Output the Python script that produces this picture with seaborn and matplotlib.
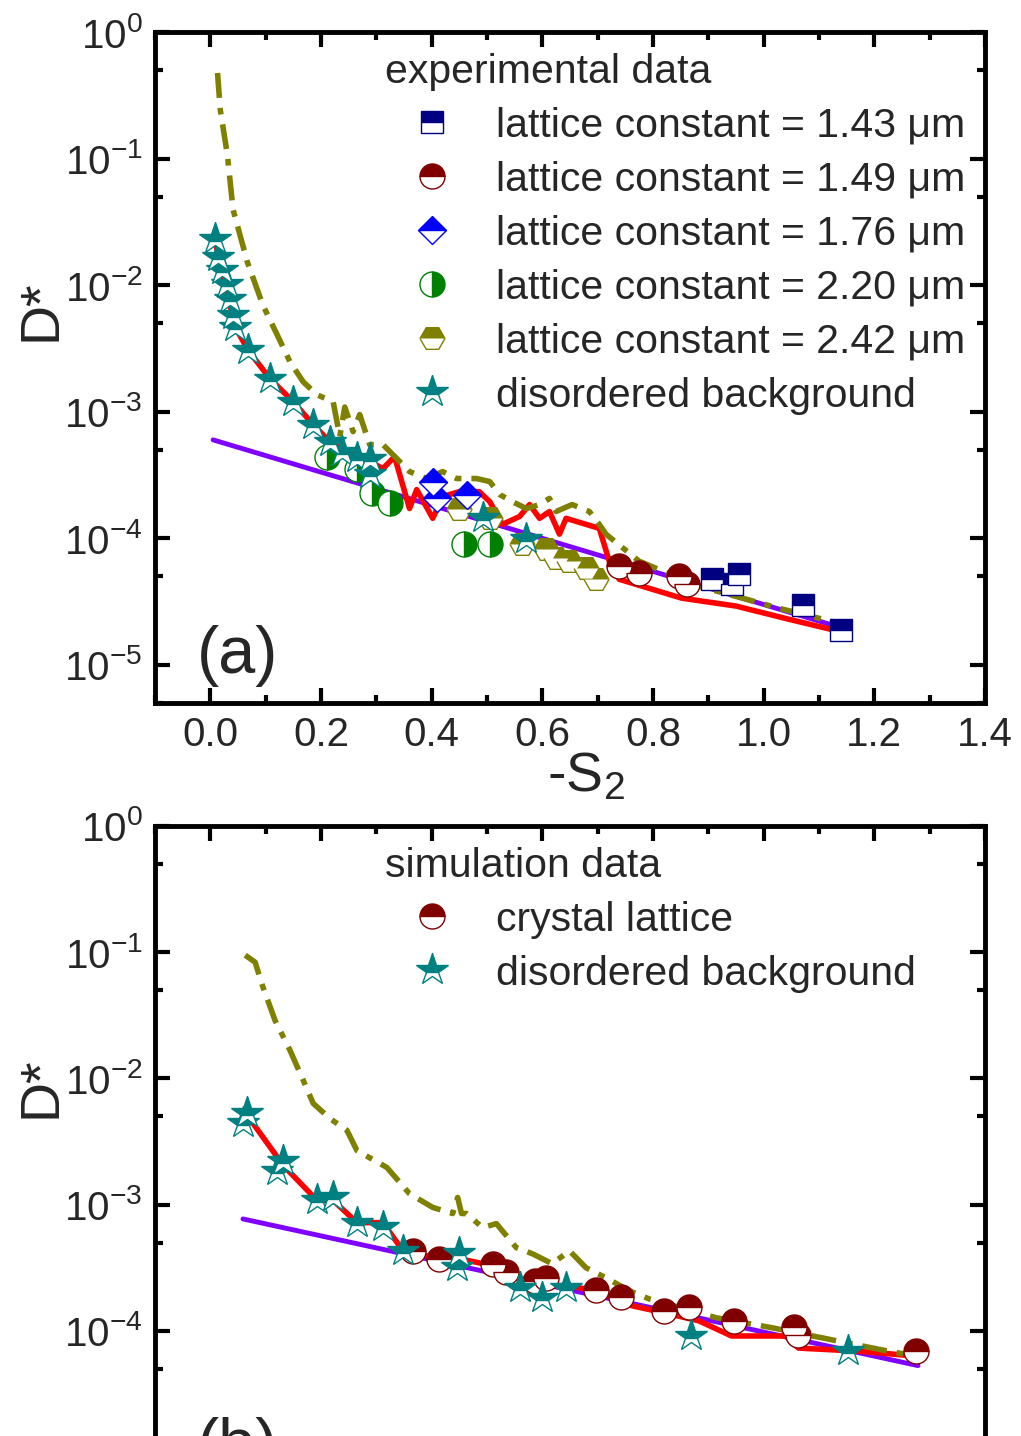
import seaborn as sns
import matplotlib.pyplot as plt
from matplotlib.lines import Line2D
from matplotlib.ticker import LogLocator, MultipleLocator, NullFormatter, FormatStrFormatter

#%% Dados (a) - experimental
a_red_x = [0.009, 0.045, 0.068, 0.108, 0.150, 0.186, 0.216, 0.252, 0.288, 0.312, 0.333,
           0.360, 0.373, 0.402, 0.420, 0.450, 0.486, 0.505, 0.528, 0.559, 0.577, 0.595,
           0.613, 0.631, 0.643, 0.679, 0.703, 0.721, 0.739, 0.852, 0.950, 1.045, 1.135]
a_red_y = [0.0218, 0.00467, 0.00308, 0.00182, 0.00120, 7.9e-4, 5.8e-4, 4.67e-4, 4.04e-4,
           3.56e-4, 4.42e-4, 1.72e-4, 2.43e-4, 1.44e-4, 2.14e-4, 2.34e-4, 2.34e-4, 1.95e-4,
           1.29e-4, 1.49e-4, 1.85e-4, 1.44e-4, 1.63e-4, 1.08e-4, 1.44e-4, 1.29e-4, 1.20e-4,
           6.6e-5, 4.75e-5, 3.37e-5, 2.92e-5, 2.30e-5, 1.85e-5]

a_olive_x = [0.013, 0.018, 0.031, 0.041, 0.067, 0.095, 0.121, 0.144, 0.168, 0.193,
             0.222, 0.234, 0.243, 0.258, 0.270, 0.288, 0.312, 0.337, 0.360, 0.391,
             0.420, 0.445, 0.481, 0.505, 0.523, 0.546, 0.571, 0.595, 0.613, 0.625,
             0.654, 0.685, 0.703, 0.715, 0.775, 0.883, 1.027, 1.135]
a_olive_y = [0.475, 0.243, 0.106, 0.0397, 0.0152, 0.00696, 0.00404, 0.00248, 0.00172, 0.00136,
             0.00120, 6.36e-4, 1.09e-3, 6.97e-4, 9.5e-4, 5.5e-4, 5.5e-4, 4.27e-4, 3.37e-4, 2.97e-4,
             3.37e-4, 2.97e-4, 2.97e-4, 2.81e-4, 2.22e-4, 1.95e-4, 1.72e-4, 1.85e-4, 2.07e-4, 1.63e-4,
             1.85e-4, 1.63e-4, 1.29e-4, 1.08e-4, 6.6e-5, 4.19e-5, 2.81e-5, 2.14e-5]

a_fit_x = [0.005, 1.135]
a_fit_y = [6.0e-4, 2.0e-5]

a_star_x = [0.009, 0.013, 0.022, 0.031, 0.036, 0.041, 0.045, 0.068, 0.108, 0.150, 0.186,
            0.216, 0.238, 0.265, 0.288, 0.288, 0.492, 0.571]
a_star_y = [0.023, 0.0166, 0.0131, 0.0102, 0.0078, 0.0058, 0.0047, 0.0031, 0.0018, 0.0012,
            7.9e-4, 5.8e-4, 4.8e-4, 4.3e-4, 4.2e-4, 3.2e-4, 1.44e-4, 9.8e-5]

a_143_x = [0.906, 0.942, 0.955, 1.072, 1.139]
a_143_y = [4.75e-5, 4.4e-5, 5.2e-5, 3.0e-5, 1.9e-5]
a_149_x = [0.739, 0.775, 0.847, 0.861]
a_149_y = [6.0e-5, 5.3e-5, 5.0e-5, 4.4e-5]
a_176_x = [0.402, 0.409, 0.463]
a_176_y = [2.8e-4, 2.07e-4, 2.22e-4]
a_220_x = [0.211, 0.265, 0.292, 0.324, 0.459, 0.505]
a_220_y = [4.4e-4, 3.5e-4, 2.3e-4, 1.9e-4, 9.0e-5, 9.0e-5]
a_242_x = [0.450, 0.505, 0.564, 0.607, 0.625, 0.649, 0.679, 0.697]
a_242_y = [1.72e-4, 1.44e-4, 9.0e-5, 8.3e-5, 7.0e-5, 6.6e-5, 5.8e-5, 4.75e-5]

#%% Dados do gráfico (b) - simulação
b_red_x = [0.067, 0.132, 0.193, 0.222, 0.265, 0.312, 0.348, 0.414, 0.450, 0.510, 0.559,
           0.604, 0.643, 0.697, 0.762, 0.820, 0.883, 0.942, 1.040, 1.063, 1.171, 1.276]
b_red_y = [5.08e-3, 2.04e-3, 1.08e-3, 1.08e-3, 7.2e-4, 7.2e-4, 4.31e-4, 3.73e-4, 3.73e-4,
           3.28e-4, 2.59e-4, 2.28e-4, 2.28e-4, 2.08e-4, 1.58e-4, 1.39e-4, 1.20e-4, 9.1e-5,
           9.1e-5, 7.3e-5, 6.9e-5, 6.3e-5]

b_olive_x = [0.063, 0.081, 0.094, 0.117, 0.144, 0.168, 0.186, 0.216, 0.247, 0.265,
             0.319, 0.360, 0.402, 0.438, 0.447, 0.454, 0.463, 0.492, 0.517, 0.553,
             0.582, 0.618, 0.649, 0.679, 0.715, 0.757, 0.793, 0.914, 1.014, 1.225, 1.276]
b_olive_y = [0.0947, 0.0833, 0.0547, 0.0288, 0.0167, 0.00964, 0.00633, 0.00482, 0.00387, 0.00268,
             0.00197, 0.00122, 9.5e-4, 8.5e-4, 1.14e-3, 8.5e-4, 8.5e-4, 6.57e-4, 7.07e-4, 4.56e-4,
             4.08e-4, 3.4e-4, 4.31e-4, 3.16e-4, 2.63e-4, 2.08e-4, 1.79e-4, 1.27e-4, 1.06e-4, 6.9e-5,
             6.3e-5]

b_fit_x = [0.059, 1.279]
b_fit_y = [7.7e-4, 5.3e-5]

b_star_x = [0.067, 0.059, 0.132, 0.121, 0.193, 0.222, 0.265, 0.312, 0.348, 0.450, 0.445,
            0.559, 0.600, 0.643, 0.868, 1.153]
b_star_y = [5.3e-3, 4.4e-3, 2.2e-3, 1.86e-3, 1.08e-3, 1.14e-3, 7.1e-4, 6.6e-4, 4.3e-4, 4.1e-4,
            3.2e-4, 2.2e-4, 1.83e-4, 2.2e-4, 9.1e-5, 6.9e-5]

b_cry_x = [0.366, 0.414, 0.510, 0.535, 0.586, 0.607, 0.697, 0.742, 0.820, 0.865, 0.946,
           1.054, 1.063, 1.276]
b_cry_y = [4.3e-4, 3.7e-4, 3.4e-4, 2.9e-4, 2.5e-4, 2.6e-4, 2.1e-4, 1.86e-4, 1.44e-4, 1.55e-4,
           1.2e-4, 1.08e-4, 9.3e-5, 6.9e-5]

#%% Estilos
sns.set_style("ticks")
plt.rcParams['font.family'] = ['Liberation Sans', 'DejaVu Sans']
plt.rcParams['mathtext.default'] = 'regular'

VERMELHO = '#FF0000'
ROXO = '#8000FF'
OLIVA = '#808000'
TRACO_PONTO = (0, (4.5, 1.8, 1.2, 1.8))


def estilo(marker, cor, ms, fill='top'):
    return dict(marker=marker, markerfacecolor=cor, markerfacecoloralt='white',
                markeredgecolor=cor, markeredgewidth=1.0, fillstyle=fill, markersize=ms)


st_143 = estilo('s', '#000080', 16)
st_149 = estilo('o', '#800000', 18)
st_176 = estilo('D', '#0000FF', 14)
st_220 = estilo('o', '#008000', 18, fill='right')
st_242 = estilo('H', OLIVA, 18)
st_star = estilo('*', '#008080', 24)


def linha(ax, x, y, cor, lw, ls='-'):
    sns.lineplot(x=x, y=y, ax=ax, color=cor, lw=lw, linestyle=ls,
                 estimator=None, sort=False, legend=False)


def pontos(ax, x, y, st):
    sns.lineplot(x=x, y=y, ax=ax, color=st['markeredgecolor'], linestyle='none',
                 estimator=None, sort=False, legend=False, **st)


fig = plt.figure(figsize=(10.21, 14.36), dpi=100)
ax_a = fig.add_axes([0.1518, 0.5104, 0.8129, 0.4673])
ax_b = fig.add_axes([0.1518, -0.0411, 0.8129, 0.4659])

for ax in (ax_a, ax_b):
    ax.set_yscale('log')

#%% (a)
linha(ax_a, a_fit_x, a_fit_y, ROXO, 3.5)
linha(ax_a, a_red_x, a_red_y, VERMELHO, 4)
linha(ax_a, a_olive_x, a_olive_y, OLIVA, 4, TRACO_PONTO)
pontos(ax_a, a_242_x, a_242_y, st_242)
pontos(ax_a, a_220_x, a_220_y, st_220)
pontos(ax_a, a_176_x, a_176_y, st_176)
pontos(ax_a, a_149_x, a_149_y, st_149)
pontos(ax_a, a_143_x, a_143_y, st_143)
pontos(ax_a, a_star_x, a_star_y, st_star)

#%% (b)
linha(ax_b, b_fit_x, b_fit_y, ROXO, 3.5)
linha(ax_b, b_red_x, b_red_y, VERMELHO, 4)
linha(ax_b, b_olive_x, b_olive_y, OLIVA, 4, TRACO_PONTO)
pontos(ax_b, b_cry_x, b_cry_y, st_149)
pontos(ax_b, b_star_x, b_star_y, st_star)

#%% Eixos
for ax in (ax_a, ax_b):
    ax.set_xlim(-0.1, 1.4)
    ax.set_ylim(5e-6, 1)
    ax.xaxis.set_major_locator(MultipleLocator(0.2))
    ax.xaxis.set_minor_locator(MultipleLocator(0.1))
    ax.xaxis.set_major_formatter(FormatStrFormatter('%.1f'))
    ax.yaxis.set_major_locator(LogLocator(base=10, numticks=12))
    ax.yaxis.set_minor_locator(LogLocator(base=10, subs=[5], numticks=12))
    ax.yaxis.set_minor_formatter(NullFormatter())
    ax.tick_params(which='both', direction='in', top=True, right=True, width=3, color='black')
    ax.tick_params(which='major', length=11, labelsize=29, pad=9)
    ax.tick_params(which='minor', length=6)
    for s in ax.spines.values():
        s.set_linewidth(3.5)
        s.set_color('black')
    ax.set_ylabel('D*', fontsize=40)

# o painel (b) sai cortado embaixo, como na figura original
ax_b.tick_params(labelbottom=False)

ax_a.yaxis.set_label_coords(-0.105, 0.585)
ax_b.yaxis.set_label_coords(-0.105, 0.61)
ax_a.set_xlabel('-S$_{2}$', fontsize=40)
ax_a.xaxis.set_label_coords(0.519, -0.072)

ax_a.text(0.05, 0.045, '(a)', transform=ax_a.transAxes, fontsize=48)
ax_b.text(0.05, 0.045, '(b)', transform=ax_b.transAxes, fontsize=48)

#%% Legendas
def legenda(ax, titulo, itens):
    handles = [Line2D([], [], linestyle='none', **st) for st, _ in itens]
    labels = [lab for _, lab in itens]
    leg = ax.legend(handles, labels, title=titulo, loc='upper left',
                    bbox_to_anchor=(0.277, 0.969), frameon=False, fontsize=29.5,
                    title_fontsize=29.5, alignment='left', borderpad=0, borderaxespad=0,
                    handlelength=2.3, handletextpad=0.4, labelspacing=0.39)
    return leg


legenda(ax_a, 'experimental data', [
    (st_143, 'lattice constant = 1.43 μm'),
    (st_149, 'lattice constant = 1.49 μm'),
    (st_176, 'lattice constant = 1.76 μm'),
    (st_220, 'lattice constant = 2.20 μm'),
    (st_242, 'lattice constant = 2.42 μm'),
    (st_star, 'disordered background'),
])
legenda(ax_b, 'simulation data', [
    (st_149, 'crystal lattice'),
    (st_star, 'disordered background'),
])

fig.savefig('out.png', dpi=100)
